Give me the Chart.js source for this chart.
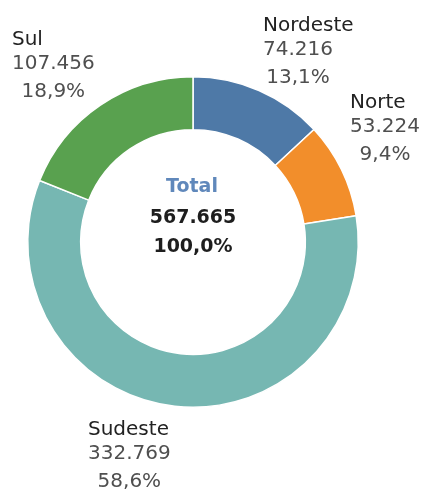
<!DOCTYPE html>
<html lang="pt">
<head>
  <meta charset="UTF-8" />
  <title>Regiões</title>
  <script src="https://cdn.jsdelivr.net/npm/chart.js"></script>
  <style>
    html, body { margin: 0; padding: 0; background: #fff; }
    #wrap { width: 421px; height: 493px; position: relative; }
  </style>
</head>
<body>
  <div id="wrap"><canvas id="regionChart"></canvas></div>

  <script>
    // data
    const regions = ['Nordeste', 'Norte', 'Sudeste', 'Sul'];
    const values = [74216, 53224, 332769, 107456];
    const percentLabels = ['13,1%', '9,4%', '58,6%', '18,9%'];
    const totalValue = 567665;
    const totalPercent = '100,0%';

    const colors = ['#4e79a7', '#f28e2b', '#76b7b2', '#59a14f'];

    // where each label sits, relative to the doughnut centre (left x, name baseline)
    const labelOffsets = [[70, -211], [157, -134], [-105, 193], [-181, -197]];

    const fmt = n => n.toLocaleString('de-DE');
    const FONT = "'DejaVu Sans', Verdana, sans-serif";

    const labelPlugin = {
      id: 'regionLabels',
      afterDraw(chart) {
        const ctx = chart.ctx;
        const arc = chart.getDatasetMeta(0).data[0];
        const cx = arc.x, cy = arc.y;
        ctx.save();
        ctx.textBaseline = 'alphabetic';

        regions.forEach((name, i) => {
          const [dx, dy] = labelOffsets[i];
          const x = cx + dx, y = cy + dy;
          ctx.font = '20px ' + FONT;
          ctx.textAlign = 'left';
          ctx.fillStyle = '#222';
          ctx.fillText(name, x, y);
          const v = fmt(values[i]);
          ctx.fillStyle = '#4f4f4f';
          ctx.fillText(v, x, y + 24);
          const w = ctx.measureText(v).width;
          ctx.textAlign = 'center';
          ctx.fillText(percentLabels[i], x + w / 2, y + 52);
        });

        ctx.textAlign = 'center';
        ctx.font = 'bold 19px ' + FONT;
        ctx.fillStyle = '#6088bb';
        ctx.fillText('Total', cx - 1, cy - 50);
        ctx.fillStyle = '#1e1e1e';
        ctx.fillText(fmt(totalValue), cx, cy - 19);
        ctx.fillText(totalPercent, cx, cy + 10);
        ctx.restore();
      }
    };

    new Chart(document.getElementById('regionChart'), {
      type: 'doughnut',
      data: {
        labels: regions,
        datasets: [{
          data: values,
          backgroundColor: colors,
          borderColor: '#ffffff',
          borderWidth: 1.5
        }]
      },
      options: {
        responsive: true,
        maintainAspectRatio: false,
        animation: false,
        cutout: '68%',
        layout: { padding: { left: 27, right: 62, top: 76, bottom: 85 } },
        plugins: {
          legend: { display: false },
          tooltip: { enabled: false }
        }
      },
      plugins: [labelPlugin]
    });
  </script>
</body>
</html>
